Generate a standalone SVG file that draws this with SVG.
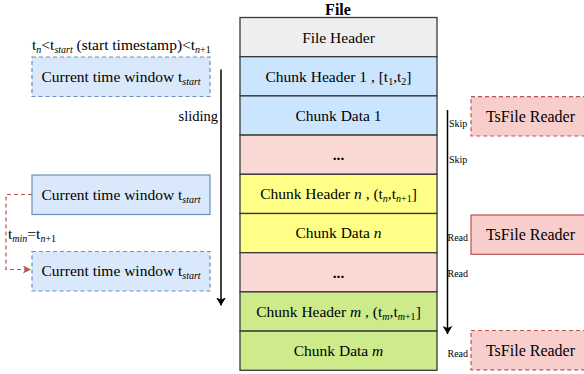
<svg xmlns="http://www.w3.org/2000/svg" width="584" height="374" viewBox="0 0 584 374">
<defs>
<marker id="ab" viewBox="0 0 8 10" refX="8" refY="5" markerWidth="8" markerHeight="10" markerUnits="userSpaceOnUse" orient="auto"><path d="M0,0 L8,5 L0,10 L2,5 z" fill="#000"/></marker>
<marker id="ar" viewBox="0 0 8 8" refX="8" refY="4" markerWidth="8" markerHeight="8" markerUnits="userSpaceOnUse" orient="auto"><path d="M0,0 L8,4 L0,8 L2,4 z" fill="#b85450"/></marker>
</defs>
<style>
.t{font-size:15.5px}
.c{text-anchor:middle}
.s{font-size:10px}
.i{font-style:italic}
.row{stroke:#36393d;stroke-width:1.3}
.win{fill:#dae8fc;stroke:#6c8ebf;stroke-width:1.2}
.rd{fill:#f8cecc;stroke:#b85450;stroke-width:1.2}
.dash{stroke-dasharray:4 3}
.lbl{font-size:10px}
</style>
<rect width="584" height="374" fill="#fff"/>
<g font-family="Liberation Serif" fill="#000">
<text x="338" y="14.5" class="c" font-size="16" font-weight="bold">File</text>

<g id="file-header"><rect class="row" x="240" y="17.5" width="197" height="39.2" fill="#eeeeee"/><text class="t c" x="338.5" y="42.5">File Header</text></g>
<g id="chunk-header-1"><rect class="row" x="240" y="56.7" width="197" height="39.2" fill="#cce5ff"/><text class="t c" x="338.5" y="81.5">Chunk Header 1 ,  [t<tspan class="s" dy="3">1</tspan><tspan dy="-3">,t</tspan><tspan class="s" dy="3">2</tspan><tspan dy="-3">]</tspan></text></g>
<g id="chunk-data-1"><rect class="row" x="240" y="95.9" width="197" height="39.2" fill="#cce5ff"/><text class="t c" x="338.5" y="120.7">Chunk Data 1</text></g>
<g id="gap-1"><rect class="row" x="240" y="135.1" width="197" height="39.2" fill="#fad9d5"/><text class="t c" x="338.5" y="160" font-weight="bold">...</text></g>
<g id="chunk-header-n"><rect class="row" x="240" y="174.3" width="197" height="39.2" fill="#ffff88"/><text class="t c" x="338.5" y="199">Chunk Header <tspan class="i">n</tspan> , (t<tspan class="s i" dy="3">n</tspan><tspan dy="-3">,t</tspan><tspan class="s" dy="3"><tspan class="i">n</tspan>+1</tspan><tspan dy="-3">]</tspan></text></g>
<g id="chunk-data-n"><rect class="row" x="240" y="213.5" width="197" height="39.2" fill="#ffff88"/><text class="t c" x="338.5" y="238.3">Chunk Data <tspan class="i">n</tspan></text></g>
<g id="gap-2"><rect class="row" x="240" y="252.7" width="197" height="39.2" fill="#fad9d5"/><text class="t c" x="338.5" y="277.5" font-weight="bold">...</text></g>
<g id="chunk-header-m"><rect class="row" x="240" y="291.9" width="197" height="39.2" fill="#cdeb8b"/><text class="t c" x="338.5" y="316.5">Chunk Header <tspan class="i">m</tspan> , (t<tspan class="s i" dy="3">m</tspan><tspan dy="-3">,t</tspan><tspan class="s" dy="3"><tspan class="i">m</tspan>+1</tspan><tspan dy="-3">]</tspan></text></g>
<g id="chunk-data-m"><rect class="row" x="240" y="331.1" width="197" height="39.2" fill="#cdeb8b"/><text class="t c" x="338.5" y="355.5">Chunk Data <tspan class="i">m</tspan></text></g>

<text class="t" x="32" y="50">t<tspan class="s i" dy="3">n</tspan><tspan dy="-3">&lt;t</tspan><tspan class="s i" dy="3">start</tspan><tspan dy="-3"> (start timestamp)&lt;t</tspan><tspan class="s" dy="3"><tspan class="i">n</tspan>+1</tspan></text>

<g id="window-1"><rect class="win dash" x="32" y="57" width="178" height="39.5"/><text class="t" x="41.5" y="82">Current time window t<tspan class="s i" dy="3">start</tspan></text></g>
<g id="window-2"><rect class="win" x="32" y="175" width="178" height="39.5"/><text class="t" x="41.5" y="199.5">Current time window t<tspan class="s i" dy="3">start</tspan></text></g>
<g id="window-3"><rect class="win dash" x="32" y="251.5" width="178" height="39.5"/><text class="t" x="41.5" y="276">Current time window t<tspan class="s i" dy="3">start</tspan></text></g>

<text x="218" y="120.5" font-size="14.5" text-anchor="end">sliding</text>
<text class="t" x="8" y="238.5">t<tspan class="s i" dy="3">min</tspan><tspan dy="-3">=t</tspan><tspan class="s" dy="3"><tspan class="i">n</tspan>+1</tspan></text>

<g id="reader-1"><rect class="rd dash" x="471" y="96.7" width="125" height="39.3"/><text class="c" x="530.5" y="121.5" font-size="16" fill="#000">TsFile Reader</text></g>
<g id="reader-2"><rect class="rd" x="471" y="215" width="125" height="39.3"/><text class="c" x="530.5" y="240" font-size="16" fill="#000">TsFile Reader</text></g>
<g id="reader-3"><rect class="rd dash" x="471" y="330.5" width="125" height="39.3"/><text class="c" x="530.5" y="355.5" font-size="16" fill="#000">TsFile Reader</text></g>

<text class="lbl" x="449" y="127">Skip</text>
<text class="lbl" x="449" y="162.5">Skip</text>
<text class="lbl" x="447.5" y="241">Read</text>
<text class="lbl" x="447.5" y="277">Read</text>
<text class="lbl" x="447.5" y="356.5">Read</text>
</g>
<g id="connectors">
<path d="M221,69.5 V305.5" stroke="#000" stroke-width="1.5" fill="none" marker-end="url(#ab)"/>
<path d="M447.5,110 V334" stroke="#000" stroke-width="1.5" fill="none" marker-end="url(#ab)"/>
<path d="M32,194.5 H6 V269.5 H31" stroke="#b85450" stroke-width="1.2" stroke-dasharray="4 3" fill="none" marker-end="url(#ar)"/>
</g>
</svg>
